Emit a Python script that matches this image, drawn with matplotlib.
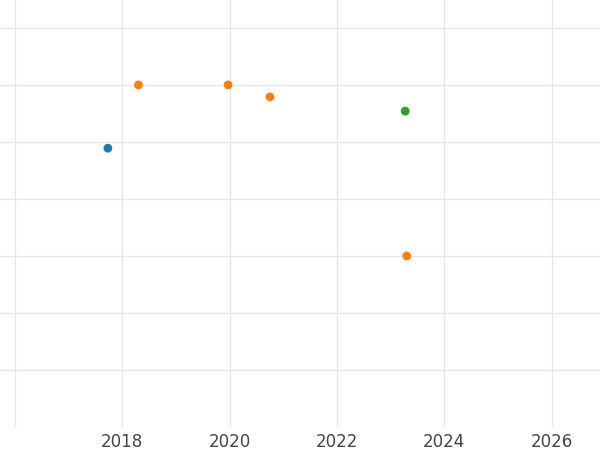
import matplotlib
matplotlib.use("Agg")
import matplotlib.pyplot as plt

years_blue = [2017.73]
vals_blue = [4.89]
years_orange = [2018.3, 2019.97, 2020.75, 2023.3]
vals_orange = [6.0, 6.0, 5.79, 3.0]
years_green = [2023.27]
vals_green = [5.54]

fig = plt.figure(figsize=(6, 4.5), dpi=100)
ax = fig.add_axes([0, 23/450, 1, 1 - 23/450])
ax.scatter(years_blue, vals_blue, color="#1f77b4", s=40, zorder=3, edgecolors="none")
ax.scatter(years_orange, vals_orange, color="#ff7f0e", s=40, zorder=3, edgecolors="none")
ax.scatter(years_green, vals_green, color="#2ca02c", s=40, zorder=3, edgecolors="none")
ax.set_xlim(2015.72, 2026.9)
ax.set_ylim(0, 7.49)
ax.set_xticks([2016, 2018, 2020, 2022, 2024, 2026])
ax.set_xticklabels(["", "2018", "2020", "2022", "2024", "2026"])
ax.set_yticks([1, 2, 3, 4, 5, 6, 7])
ax.set_yticklabels([])
ax.grid(True, color="#e6e6e6", linewidth=1)
ax.set_axisbelow(True)
for s in ax.spines.values():
    s.set_visible(False)
ax.tick_params(length=0, labelsize=12, labelcolor="#444444", pad=4)
fig.savefig("out.png", dpi=100)
